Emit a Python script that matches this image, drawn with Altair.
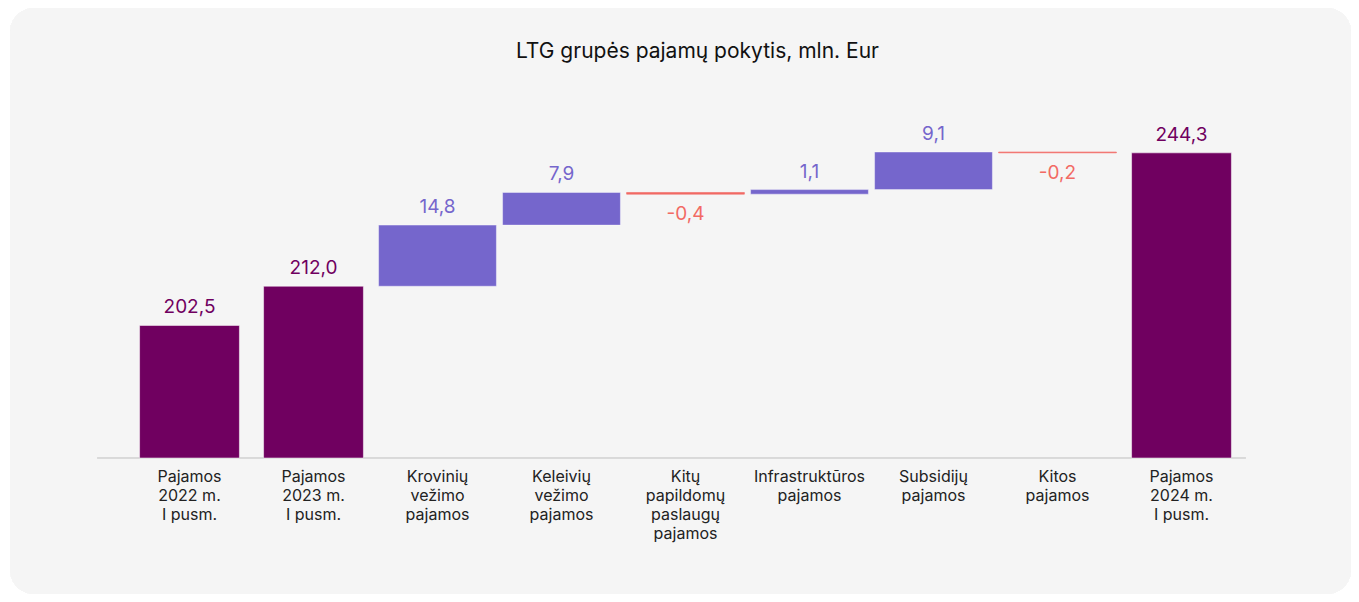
import altair as alt
import pandas as pd

categories = [
    "Pajamos|2022 m.|I pusm.",
    "Pajamos|2023 m.|I pusm.",
    "Krovinių|vežimo|pajamos",
    "Keleivių|vežimo|pajamos",
    "Kitų|papildomų|paslaugų|pajamos",
    "Infrastruktūros|pajamos",
    "Subsidijų|pajamos",
    "Kitos|pajamos",
    "Pajamos|2024 m.|I pusm.",
]
values = [202.5, 212.0, 14.8, 7.9, -0.4, 1.1, 9.1, -0.2, 244.3]
kinds = ["total", "total", "pos", "pos", "neg", "pos", "pos", "neg", "total"]

rows = []
running = 0.0
for cat, v, k in zip(categories, values, kinds):
    if k == "total":
        start, end = 0.0, v
        running = v
    else:
        start, end = running, running + v
        running = running + v
    rows.append({
        "cat": cat, "kind": k, "start": start, "end": end,
        "top": max(start, end), "bottom": min(start, end),
        "label": f"{v:.1f}".replace(".", ","),
    })
df = pd.DataFrame(rows)

FONT = "Inter"
W, H = 1116, 358
PL, PT, PR, PB = 119.5, 92, 107.5, 136
color_scale = alt.Scale(domain=["total", "pos", "neg"],
                        range=["#700060", "#7566cc", "#f26a64"])
text_scale = alt.Scale(domain=["total", "pos", "neg"],
                       range=["#700060", "#7566cc", "#f0504a"])
yscale = alt.Scale(domain=[170.4, 257.1], clamp=True, nice=False, zero=False)
xenc = alt.X("cat:N", sort=categories,
             scale=alt.Scale(paddingInner=0, paddingOuter=0),
             axis=alt.Axis(title=None, domain=False, ticks=False, labelAngle=0,
                           labelExpr="split(datum.value, '|')",
                           labelFont=FONT, labelFontSize=16, labelColor="#222222",
                           labelPadding=10, labelLineHeight=19, grid=False,
                           zindex=1))

base = alt.Chart(df)

card = base.mark_rect(fill="#f5f5f5", cornerRadius=24).encode(
    x=alt.value(-PL + 2), x2=alt.value(W + PR), y=alt.value(-PT), y2=alt.value(H + PB)
)

baseline = base.mark_rule(color="#d9d9d9", strokeWidth=1).encode(
    x=alt.value(-30), x2=alt.value(W + 2), y=alt.value(H)
)

totals = base.transform_filter("datum.kind == 'total'").mark_bar(
    width=alt.RelativeBandSize(0.805), stroke="white", strokeWidth=1, strokeOpacity=0.5
).encode(
    x=xenc,
    y=alt.Y("top:Q", scale=yscale, axis=None),
    y2="bottom:Q",
    color=alt.Color("kind:N", scale=color_scale, legend=None),
)

pos = base.transform_filter("datum.kind == 'pos'").mark_bar(
    width=alt.RelativeBandSize(0.95), stroke="white", strokeWidth=1, strokeOpacity=0.4
).encode(
    x=xenc,
    y=alt.Y("top:Q", scale=yscale, axis=None),
    y2="bottom:Q",
    color=alt.Color("kind:N", scale=color_scale, legend=None),
)

neg = base.transform_filter("datum.kind == 'neg'").mark_bar(
    width=alt.RelativeBandSize(0.95), stroke="#f26a64", strokeWidth=0.6
).encode(
    x=xenc,
    y=alt.Y("top:Q", scale=yscale, axis=None),
    y2="bottom:Q",
    color=alt.Color("kind:N", scale=color_scale, legend=None),
)

up_labels = base.transform_filter("datum.kind != 'neg'").mark_text(
    font=FONT, fontSize=19, baseline="alphabetic", dy=-12
).encode(
    x=xenc,
    y=alt.Y("top:Q", scale=yscale, axis=None),
    text="label:N",
    color=alt.Color("kind:N", scale=text_scale, legend=None),
)

down_labels = base.transform_filter("datum.kind == 'neg'").mark_text(
    font=FONT, fontSize=19, baseline="alphabetic", dy=26
).encode(
    x=xenc,
    y=alt.Y("bottom:Q", scale=yscale, axis=None),
    text="label:N",
    color=alt.Color("kind:N", scale=text_scale, legend=None),
)

chart = alt.layer(card, baseline, totals, pos, neg, up_labels, down_labels).properties(
    width=W, height=H,
    title=alt.TitleParams("LTG grupės pajamų pokytis, mln. Eur", font=FONT,
                          fontSize=21, fontWeight="normal", color="#111111",
                          anchor="middle", frame="group", offset=-54, dx=12,
                          zindex=1),
    background="white",
    padding={"left": PL, "top": PT, "right": PR, "bottom": PB},
    autosize=alt.AutoSizeParams(type="none"),
).configure_view(stroke=None).configure_axis(grid=False)

chart.save("out.html", embed_options={"renderer": "svg", "actions": False})
